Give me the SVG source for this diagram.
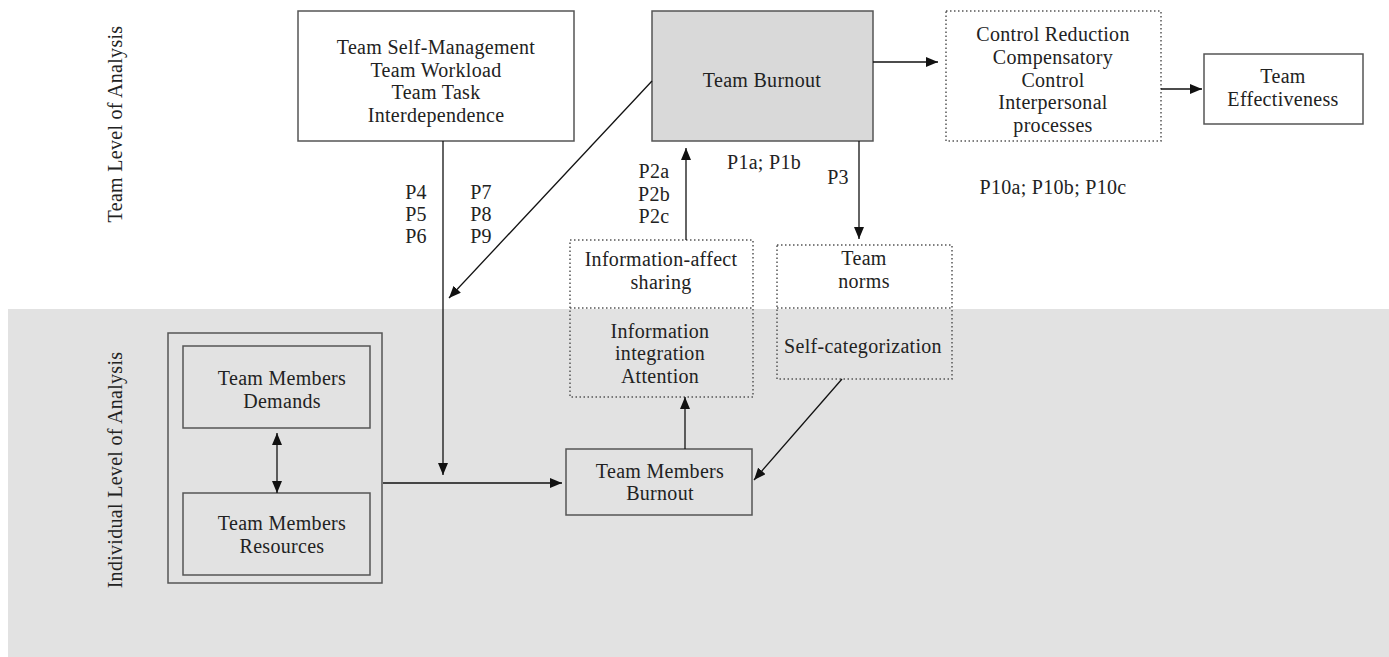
<svg xmlns="http://www.w3.org/2000/svg" width="1389" height="657" viewBox="0 0 1389 657">
<style>
text{font-family:"Liberation Serif","DejaVu Serif",serif;font-size:20px;fill:#222;text-anchor:middle;letter-spacing:0.3px}
.box{fill:#fff;stroke:#555;stroke-width:1.5}
.gbox{fill:none;stroke:#555;stroke-width:1.5}
.dot{fill:none;stroke:#555;stroke-width:1.5;stroke-dasharray:1.5 2.5}
.ln{stroke:#111;stroke-width:1.3;fill:none}
</style>
<defs>
<marker id="ah" viewBox="0 0 12 10" refX="12" refY="5" markerWidth="12" markerHeight="10" markerUnits="userSpaceOnUse" orient="auto-start-reverse">
<path d="M0,0 L12,5 L0,10 z" fill="#111"/>
</marker>
</defs>
<rect x="8" y="309" width="1381" height="348" fill="#e2e2e2"/>
<text transform="translate(122,124) rotate(-90)">Team Level of Analysis</text>
<text transform="translate(122,470) rotate(-90)">Individual Level of Analysis</text>

<g id="self-management">
<rect class="box" x="298" y="11" width="276" height="130"/>
<text x="436" y="54">Team Self-Management</text>
<text x="436" y="77">Team Workload</text>
<text x="436" y="99">Team Task</text>
<text x="436" y="122">Interdependence</text>
</g>
<g id="team-burnout">
<rect x="652" y="11" width="221" height="130" fill="#d9d9d9" stroke="#555" stroke-width="1.5"/>
<text x="762" y="87">Team Burnout</text>
</g>
<g id="control">
<rect class="dot" x="946" y="11" width="215" height="130"/>
<text x="1053" y="41">Control Reduction</text>
<text x="1053" y="64">Compensatory</text>
<text x="1053" y="87">Control</text>
<text x="1053" y="109">Interpersonal</text>
<text x="1053" y="132">processes</text>
</g>
<g id="effectiveness">
<rect class="box" x="1204" y="54" width="159" height="70"/>
<text x="1283" y="83">Team</text>
<text x="1283" y="106">Effectiveness</text>
</g>
<g id="info">
<rect class="dot" x="570" y="240" width="183" height="157"/>
<line class="dot" x1="570" y1="308" x2="753" y2="308"/>
<text x="661" y="266">Information-affect</text>
<text x="661" y="289">sharing</text>
<text x="660" y="338">Information</text>
<text x="660" y="360">integration</text>
<text x="660" y="383">Attention</text>
</g>
<g id="norms">
<rect class="dot" x="777" y="245" width="175" height="134"/>
<line class="dot" x1="777" y1="308" x2="952" y2="308"/>
<text x="864" y="265">Team</text>
<text x="864" y="288">norms</text>
<text x="863" y="353">Self-categorization</text>
</g>
<g id="members">
<rect class="gbox" x="168" y="333" width="214" height="250"/>
<rect class="gbox" x="183" y="346" width="187" height="82"/>
<text x="282" y="385">Team Members</text>
<text x="282" y="408">Demands</text>
<rect class="gbox" x="183" y="493" width="187" height="82"/>
<text x="282" y="530">Team Members</text>
<text x="282" y="553">Resources</text>
</g>
<g id="member-burnout">
<rect class="gbox" x="566" y="449" width="186" height="66"/>
<text x="660" y="478">Team Members</text>
<text x="660" y="500">Burnout</text>
</g>
<g id="labels">
<text x="416" y="199">P4</text>
<text x="416" y="221">P5</text>
<text x="416" y="243">P6</text>
<text x="481" y="199">P7</text>
<text x="481" y="221">P8</text>
<text x="481" y="243">P9</text>
<text x="654" y="178">P2a</text>
<text x="654" y="201">P2b</text>
<text x="654" y="223">P2c</text>
<text x="764" y="169">P1a; P1b</text>
<text x="838" y="184">P3</text>
<text x="1053" y="194">P10a; P10b; P10c</text>
</g>
<g id="connectors">
<line class="ln" x1="443" y1="141" x2="443" y2="475" marker-end="url(#ah)"/>
<line class="ln" x1="383" y1="483" x2="562" y2="483" marker-end="url(#ah)"/>
<line class="ln" x1="652" y1="81" x2="449" y2="298" marker-end="url(#ah)"/>
<line class="ln" x1="873" y1="62" x2="938" y2="62" marker-end="url(#ah)"/>
<line class="ln" x1="1161" y1="89" x2="1202" y2="89" marker-end="url(#ah)"/>
<line class="ln" x1="859" y1="141" x2="859" y2="239" marker-end="url(#ah)"/>
<line class="ln" x1="686" y1="240" x2="686" y2="148" marker-end="url(#ah)"/>
<line class="ln" x1="685" y1="449" x2="685" y2="397" marker-end="url(#ah)"/>
<line class="ln" x1="842" y1="379" x2="754" y2="480" marker-end="url(#ah)"/>
<line class="ln" x1="277" y1="433" x2="277" y2="493" marker-start="url(#ah)" marker-end="url(#ah)"/>
</g>
</svg>
